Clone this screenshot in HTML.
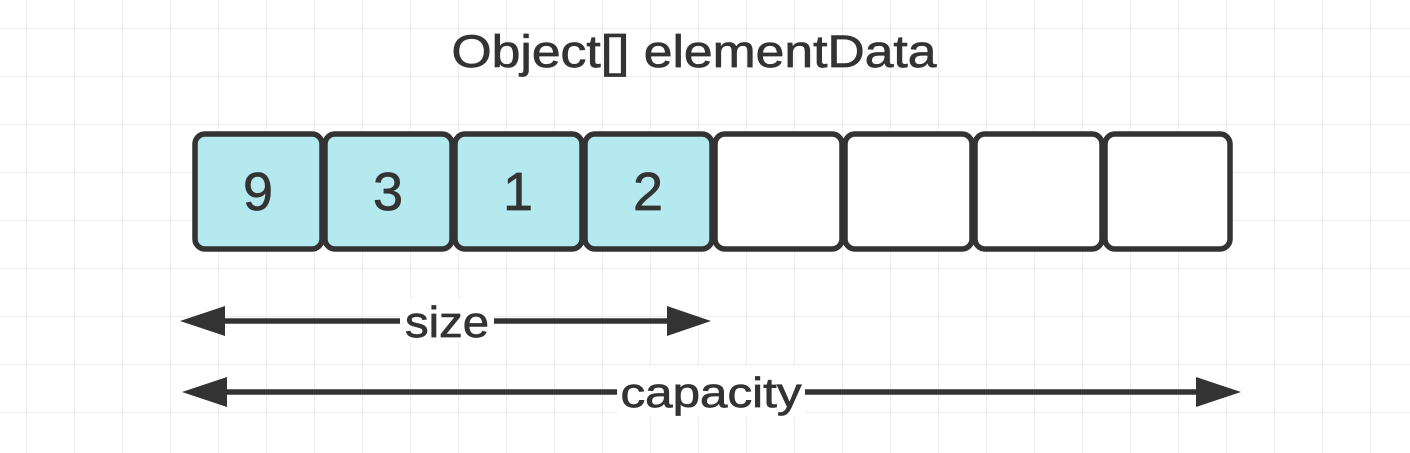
<!DOCTYPE html>
<html><head><meta charset="utf-8"><style>
html,body{margin:0;padding:0;background:#fff}
svg{display:block}
text{font-family:"Liberation Sans",sans-serif;fill:#333;stroke:#333;stroke-width:0.7}
</style></head><body>
<svg width="1410" height="453" viewBox="0 0 1410 453" xmlns="http://www.w3.org/2000/svg">
<defs>
<pattern id="g" x="26" y="28" width="48" height="48" patternUnits="userSpaceOnUse">
<path d="M0.5 0V48M0 0.5H48" stroke="#ededed" stroke-width="1" fill="none"/>
</pattern>
</defs>
<rect width="1410" height="453" fill="url(#g)"/>
<text x="694" y="67" font-size="45" text-anchor="middle" textLength="485" lengthAdjust="spacingAndGlyphs">Object[] elementData</text>
<g stroke="#333" stroke-width="5.5">
<rect x="195" y="134" width="127" height="115" rx="10" fill="#b4e9ef"/>
<rect x="325" y="134" width="127" height="115" rx="10" fill="#b4e9ef"/>
<rect x="455" y="134" width="127" height="115" rx="10" fill="#b4e9ef"/>
<rect x="585" y="134" width="127" height="115" rx="10" fill="#b4e9ef"/>
<rect x="715" y="134" width="127" height="115" rx="10" fill="#fff"/>
<rect x="845" y="134" width="127" height="115" rx="10" fill="#fff"/>
<rect x="975" y="134" width="127" height="115" rx="10" fill="#fff"/>
<rect x="1105" y="134" width="125" height="115" rx="10" fill="#fff"/>
</g>
<g font-size="54" text-anchor="middle">
<text x="258" y="210">9</text>
<text x="388" y="210">3</text>
<text x="518" y="210">1</text>
<text x="648" y="210">2</text>
</g>
<line x1="215" y1="321" x2="675" y2="321" stroke="#333" stroke-width="5.5"/>
<polygon points="180,321 225,306 225,336" fill="#333"/>
<polygon points="711,321 667,306 667,336" fill="#333"/>
<rect x="400" y="298" width="94" height="44" fill="#fff"/>
<text x="447" y="337" font-size="44" text-anchor="middle" textLength="84" lengthAdjust="spacingAndGlyphs">size</text>
<line x1="215" y1="392" x2="1205" y2="392" stroke="#333" stroke-width="5.5"/>
<polygon points="182,392 227,377 227,407" fill="#333"/>
<polygon points="1241,392 1196,377 1196,407" fill="#333"/>
<rect x="617" y="366" width="188" height="52" fill="#fff"/>
<text x="711" y="407" font-size="42" text-anchor="middle" textLength="181" lengthAdjust="spacingAndGlyphs">capacity</text>
</svg>
</body></html>
